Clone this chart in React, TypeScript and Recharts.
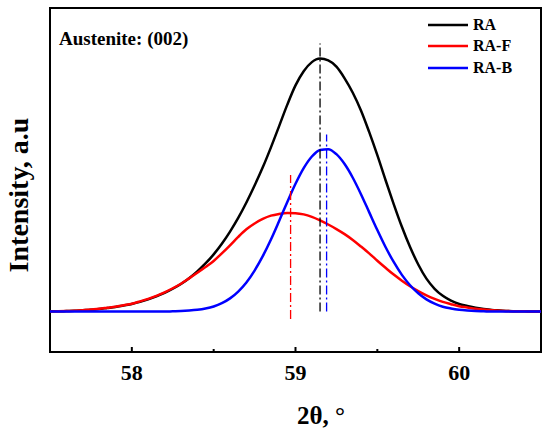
import React from 'react';
import {
  LineChart,
  Line,
  XAxis,
  YAxis,
  ReferenceLine,
  ReferenceArea,
  Legend,
  Customized,
} from 'recharts';

const TWO_THETA = [
  57.5, 57.55, 57.6, 57.65, 57.7, 57.75, 57.8, 57.85, 57.9, 57.95,
  58.0, 58.05, 58.1, 58.15, 58.2, 58.25, 58.3, 58.35, 58.4, 58.45,
  58.5, 58.55, 58.6, 58.65, 58.7, 58.75, 58.8, 58.85, 58.9, 58.95,
  59.0, 59.05, 59.1, 59.15, 59.2, 59.25, 59.3, 59.35, 59.4, 59.45,
  59.5, 59.55, 59.6, 59.65, 59.7, 59.75, 59.8, 59.85, 59.9, 59.95,
  60.0, 60.05, 60.1, 60.15, 60.2, 60.25, 60.3, 60.35, 60.4, 60.45, 60.5,
];

const RA = [
  0.1, 0.1, 0.2, 0.3, 0.5, 0.7, 1.0, 1.4, 1.8, 2.4,
  3.0, 3.8, 4.8, 6.0, 7.4, 9.0, 10.9, 13.2, 15.9, 19.0,
  22.6, 26.8, 31.6, 37.0, 43.1, 49.8, 57.0, 64.9, 73.3, 81.8,
  89.4, 95.0, 98.6, 100.0, 99.3, 96.8, 92.2, 86.5, 79.5, 71.0,
  61.8, 52.0, 42.5, 33.5, 25.5, 18.6, 13.0, 9.0, 6.2, 4.3,
  3.0, 2.2, 1.5, 1.0, 0.6, 0.4, 0.2, 0.1, 0.1, 0.0, 0.0,
];

const RA_F = [
  0.0, 0.1, 0.2, 0.3, 0.5, 0.8, 1.1, 1.5, 1.9, 2.5,
  3.1, 4.0, 5.0, 6.2, 7.6, 9.2, 11.0, 13.1, 15.3, 17.6,
  20.0, 23.0, 26.2, 29.5, 32.5, 34.8, 36.6, 37.9, 38.6, 39.0,
  38.9, 38.4, 37.4, 36.0, 34.4, 32.6, 30.6, 28.3, 25.7, 23.0,
  20.1, 17.3, 14.6, 12.2, 10.0, 8.1, 6.4, 5.0, 3.8, 2.9,
  2.1, 1.6, 1.1, 0.8, 0.5, 0.3, 0.2, 0.1, 0.1, 0.0, 0.0,
];

const RA_B = [
  0, 0, 0, 0, 0, 0, 0, 0, 0, 0,
  0, 0, 0, 0, 0, 0.1, 0.2, 0.4, 0.7, 1.2,
  2.0, 3.3, 5.2, 7.9, 11.5, 16.2, 21.9, 28.5, 35.8, 43.3,
  50.5, 56.7, 61.3, 63.9, 64.2, 62.2, 58.3, 52.9, 46.4, 39.3,
  32.2, 25.5, 19.6, 14.5, 10.4, 7.2, 4.8, 3.1, 1.9, 1.2,
  0.7, 0.4, 0.2, 0.1, 0, 0, 0, 0, 0, 0, 0,
];

const SERIES_NAMES = ['RA', 'RA-F', 'RA-B'];
const SERIES_KEYS = ['ra', 'raf', 'rab'];
const SERIES_COLORS = ['#000000', '#ff0000', '#0000ff'];

// peak marker lines (dash-dot): position, top and bottom intensity
const PEAK_POS = [59.15, 58.97, 59.19];
const PEAK_TOP = [106, 54, 70];
const PEAK_BOTTOM = [0, -3, 0];

const X_TICKS = [58, 58.5, 59, 59.5, 60];
const X_DOMAIN = [57.5, 60.5];
const Y_DOMAIN = [-16, 120];

const data = TWO_THETA.map((x, i) => ({
  x,
  ra: RA[i],
  raf: RA_F[i],
  rab: RA_B[i],
}));

const FONT = '"Liberation Serif", "Times New Roman", Times, serif';

const XTick = (props: any) => {
  const { x, y, payload } = props;
  const v = payload.value;
  const major = Number.isInteger(v);
  return (
    <g>
      <line x1={x} y1={y} x2={x} y2={y - (major ? 5 : 3)} stroke="#000" strokeWidth={2} />
      {major && (
        <text
          x={x}
          y={y + 28}
          textAnchor="middle"
          style={{ fontFamily: FONT, fontWeight: 'bold', fontSize: 22 }}
          fill="#000"
        >
          {v}
        </text>
      )}
    </g>
  );
};

const LegendContent = (props: any) => {
  const payload = [...(props.payload || [])].sort(
    (a: any, b: any) => SERIES_NAMES.indexOf(a.value) - SERIES_NAMES.indexOf(b.value)
  );
  return (
    <div style={{ fontFamily: FONT, fontWeight: 'bold', fontSize: 16, color: '#000' }}>
      {payload.map((p: any) => (
        <div key={p.value} style={{ display: 'flex', alignItems: 'center', height: 21.5 }}>
          <svg width={40} height={6} style={{ display: 'block' }}>
            <line x1={0} y1={3} x2={40} y2={3} stroke={p.color} strokeWidth={2.5} />
          </svg>
          <span style={{ marginLeft: 5, lineHeight: '16px' }}>{p.value}</span>
        </div>
      ))}
    </div>
  );
};

const TXT = { fontFamily: FONT, fontWeight: 'bold' as const };

const Texts = () => (
  <g fill="#000">
    <text x={59} y={45} style={{ ...TXT, fontSize: 19 }}>
      Austenite: (002)
    </text>
    <text
      x={27.5}
      y={195}
      textAnchor="middle"
      transform="rotate(-90, 27.5, 195)"
      style={{ ...TXT, fontSize: 28 }}
    >
      Intensity, a.u
    </text>
    <text x={321} y={424} textAnchor="middle" style={{ ...TXT, fontSize: 25 }}>
      2θ, °
    </text>
  </g>
);

export default function App() {
  return (
    <div style={{ position: 'absolute', left: 0, top: 0, width: 550, height: 438, background: '#fff' }}>
      <LineChart
        width={550}
        height={438}
        data={data}
        margin={{ top: 8, right: 9, left: 0, bottom: 0 }}
      >
        <XAxis
          dataKey="x"
          type="number"
          domain={X_DOMAIN}
          ticks={X_TICKS}
          allowDataOverflow
          height={86}
          axisLine={false}
          tickLine={false}
          tickSize={0}
          tickMargin={0}
          tick={<XTick />}
          interval={0}
        />
        <YAxis
          type="number"
          domain={Y_DOMAIN}
          allowDataOverflow
          width={50}
          tick={false}
          tickLine={false}
          axisLine={false}
        />
        {SERIES_KEYS.map((k, i) => (
          <Line
            key={k}
            type="monotone"
            dataKey={k}
            name={SERIES_NAMES[i]}
            stroke={SERIES_COLORS[i]}
            strokeWidth={2.5}
            dot={false}
            activeDot={false}
            isAnimationActive={false}
          />
        ))}
        {PEAK_POS.map((p, i) => (
          <ReferenceLine
            key={'peak' + i}
            segment={[
              { x: p, y: PEAK_BOTTOM[i] },
              { x: p, y: PEAK_TOP[i] },
            ]}
            stroke={SERIES_COLORS[i]}
            strokeWidth={1.3}
            strokeDasharray="9 3 2 3"
          />
        ))}
        <ReferenceArea
          x1={X_DOMAIN[0]}
          x2={X_DOMAIN[1]}
          y1={Y_DOMAIN[0]}
          y2={Y_DOMAIN[1]}
          fill="none"
          fillOpacity={0}
          stroke="#000"
          strokeWidth={2}
        />
        <Legend
          layout="vertical"
          align="center"
          verticalAlign="middle"
          itemSorter={null as any}
          wrapperStyle={{ top: 14, left: 428, width: 'auto' }}
          content={<LegendContent />}
        />
        <Customized component={Texts} />
      </LineChart>
    </div>
  );
}
